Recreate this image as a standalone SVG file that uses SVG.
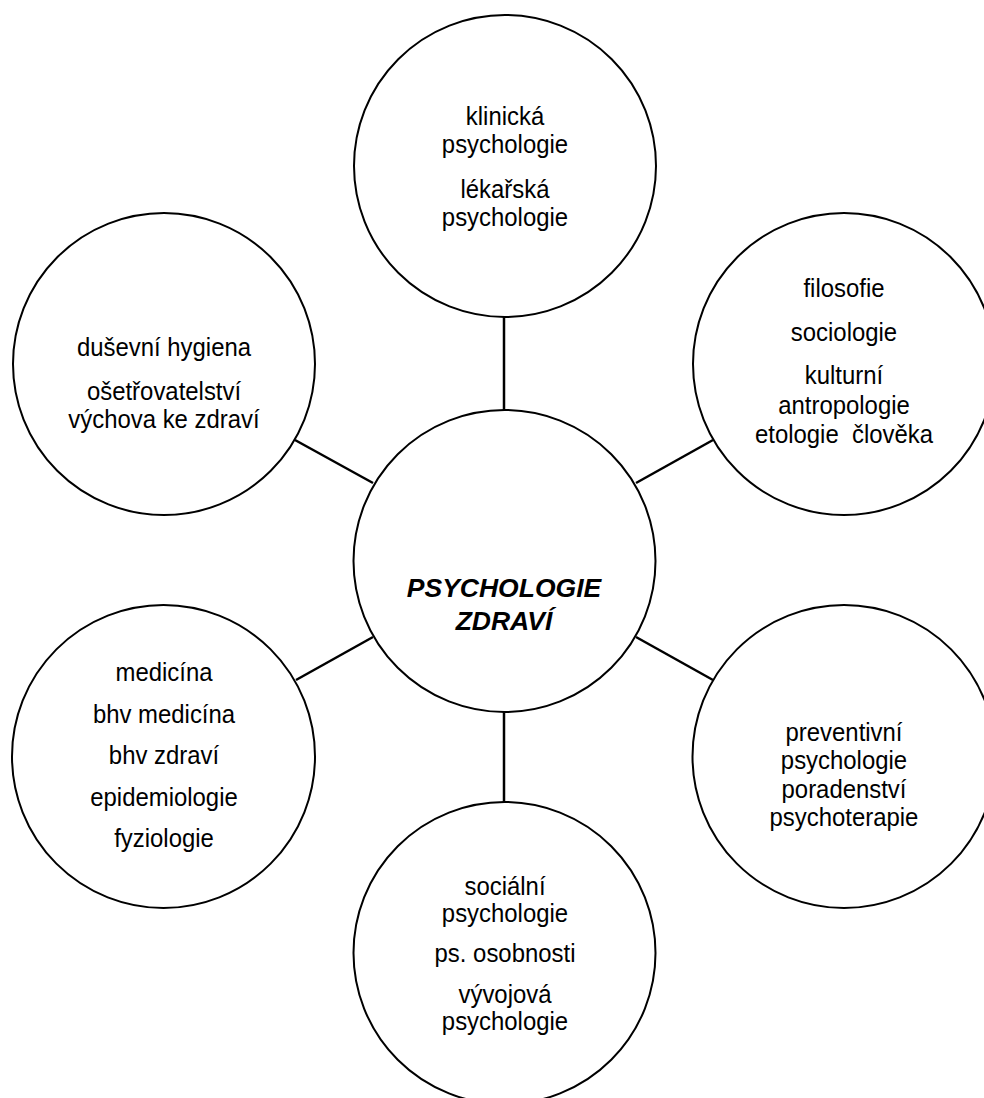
<svg xmlns="http://www.w3.org/2000/svg" width="984" height="1098" viewBox="0 0 984 1098">
<style>
.node{fill:#fff;stroke:#000;stroke-width:2}
.lbl{font-family:"Liberation Sans",Arial,sans-serif;font-size:26px;fill:#000;text-anchor:middle}
.main{font-family:"Liberation Sans",Arial,sans-serif;font-size:26.5px;font-weight:bold;font-style:italic;fill:#000;text-anchor:middle}
.conn{stroke:#000;stroke-width:2.5;fill:none}
</style>
<rect width="984" height="1098" fill="#fff"/>
<g id="connectors">
<line class="conn" x1="504" y1="317" x2="504" y2="410"/>
<line class="conn" x1="295" y1="440" x2="373" y2="483"/>
<line class="conn" x1="713" y1="440" x2="636" y2="483"/>
<line class="conn" x1="296" y1="680" x2="373" y2="637"/>
<line class="conn" x1="713" y1="680" x2="636" y2="637"/>
<line class="conn" x1="504" y1="712" x2="504" y2="802"/>
</g>
<g id="node-top">
<circle class="node" cx="505" cy="166" r="151"/>
<text class="lbl" transform="translate(505 125) scale(0.92 1)">klinická</text>
<text class="lbl" transform="translate(505 153) scale(0.92 1)">psychologie</text>
<text class="lbl" transform="translate(505 198) scale(0.92 1)">lékařská</text>
<text class="lbl" transform="translate(505 226) scale(0.92 1)">psychologie</text>
</g>
<g id="node-top-left">
<circle class="node" cx="164" cy="364" r="151"/>
<text class="lbl" transform="translate(164 356) scale(0.92 1)">duševní hygiena</text>
<text class="lbl" transform="translate(164 400) scale(0.92 1)">ošetřovatelství</text>
<text class="lbl" transform="translate(164 428) scale(0.92 1)">výchova ke zdraví</text>
</g>
<g id="node-top-right">
<circle class="node" cx="844" cy="364" r="151"/>
<text class="lbl" transform="translate(844 297) scale(0.92 1)">filosofie</text>
<text class="lbl" transform="translate(844 341) scale(0.92 1)">sociologie</text>
<text class="lbl" transform="translate(844 384) scale(0.92 1)">kulturní</text>
<text class="lbl" transform="translate(844 414) scale(0.92 1)">antropologie</text>
<text class="lbl" transform="translate(844 443) scale(0.92 1)" xml:space="preserve">etologie  člověka</text>
</g>
<g id="node-center">
<circle class="node" cx="504.5" cy="561" r="151"/>
<text class="main" x="504" y="597">PSYCHOLOGIE</text>
<text class="main" x="504" y="630">ZDRAVÍ</text>
</g>
<g id="node-bottom-left">
<circle class="node" cx="163.5" cy="756.5" r="151.5"/>
<text class="lbl" transform="translate(164 681) scale(0.92 1)">medicína</text>
<text class="lbl" transform="translate(164 723) scale(0.92 1)">bhv medicína</text>
<text class="lbl" transform="translate(164 764) scale(0.92 1)">bhv zdraví</text>
<text class="lbl" transform="translate(164 806) scale(0.92 1)">epidemiologie</text>
<text class="lbl" transform="translate(164 847) scale(0.92 1)">fyziologie</text>
</g>
<g id="node-bottom-right">
<circle class="node" cx="844" cy="756.5" r="151.5"/>
<text class="lbl" transform="translate(844 741) scale(0.92 1)">preventivní</text>
<text class="lbl" transform="translate(844 769) scale(0.92 1)">psychologie</text>
<text class="lbl" transform="translate(844 798) scale(0.92 1)">poradenství</text>
<text class="lbl" transform="translate(844 826) scale(0.92 1)">psychoterapie</text>
</g>
<g id="node-bottom">
<circle class="node" cx="504.5" cy="953" r="151"/>
<text class="lbl" transform="translate(505 895) scale(0.92 1)">sociální</text>
<text class="lbl" transform="translate(505 922) scale(0.92 1)">psychologie</text>
<text class="lbl" transform="translate(505 962) scale(0.92 1)">ps. osobnosti</text>
<text class="lbl" transform="translate(505 1003) scale(0.92 1)">vývojová</text>
<text class="lbl" transform="translate(505 1030) scale(0.92 1)">psychologie</text>
</g>
</svg>
